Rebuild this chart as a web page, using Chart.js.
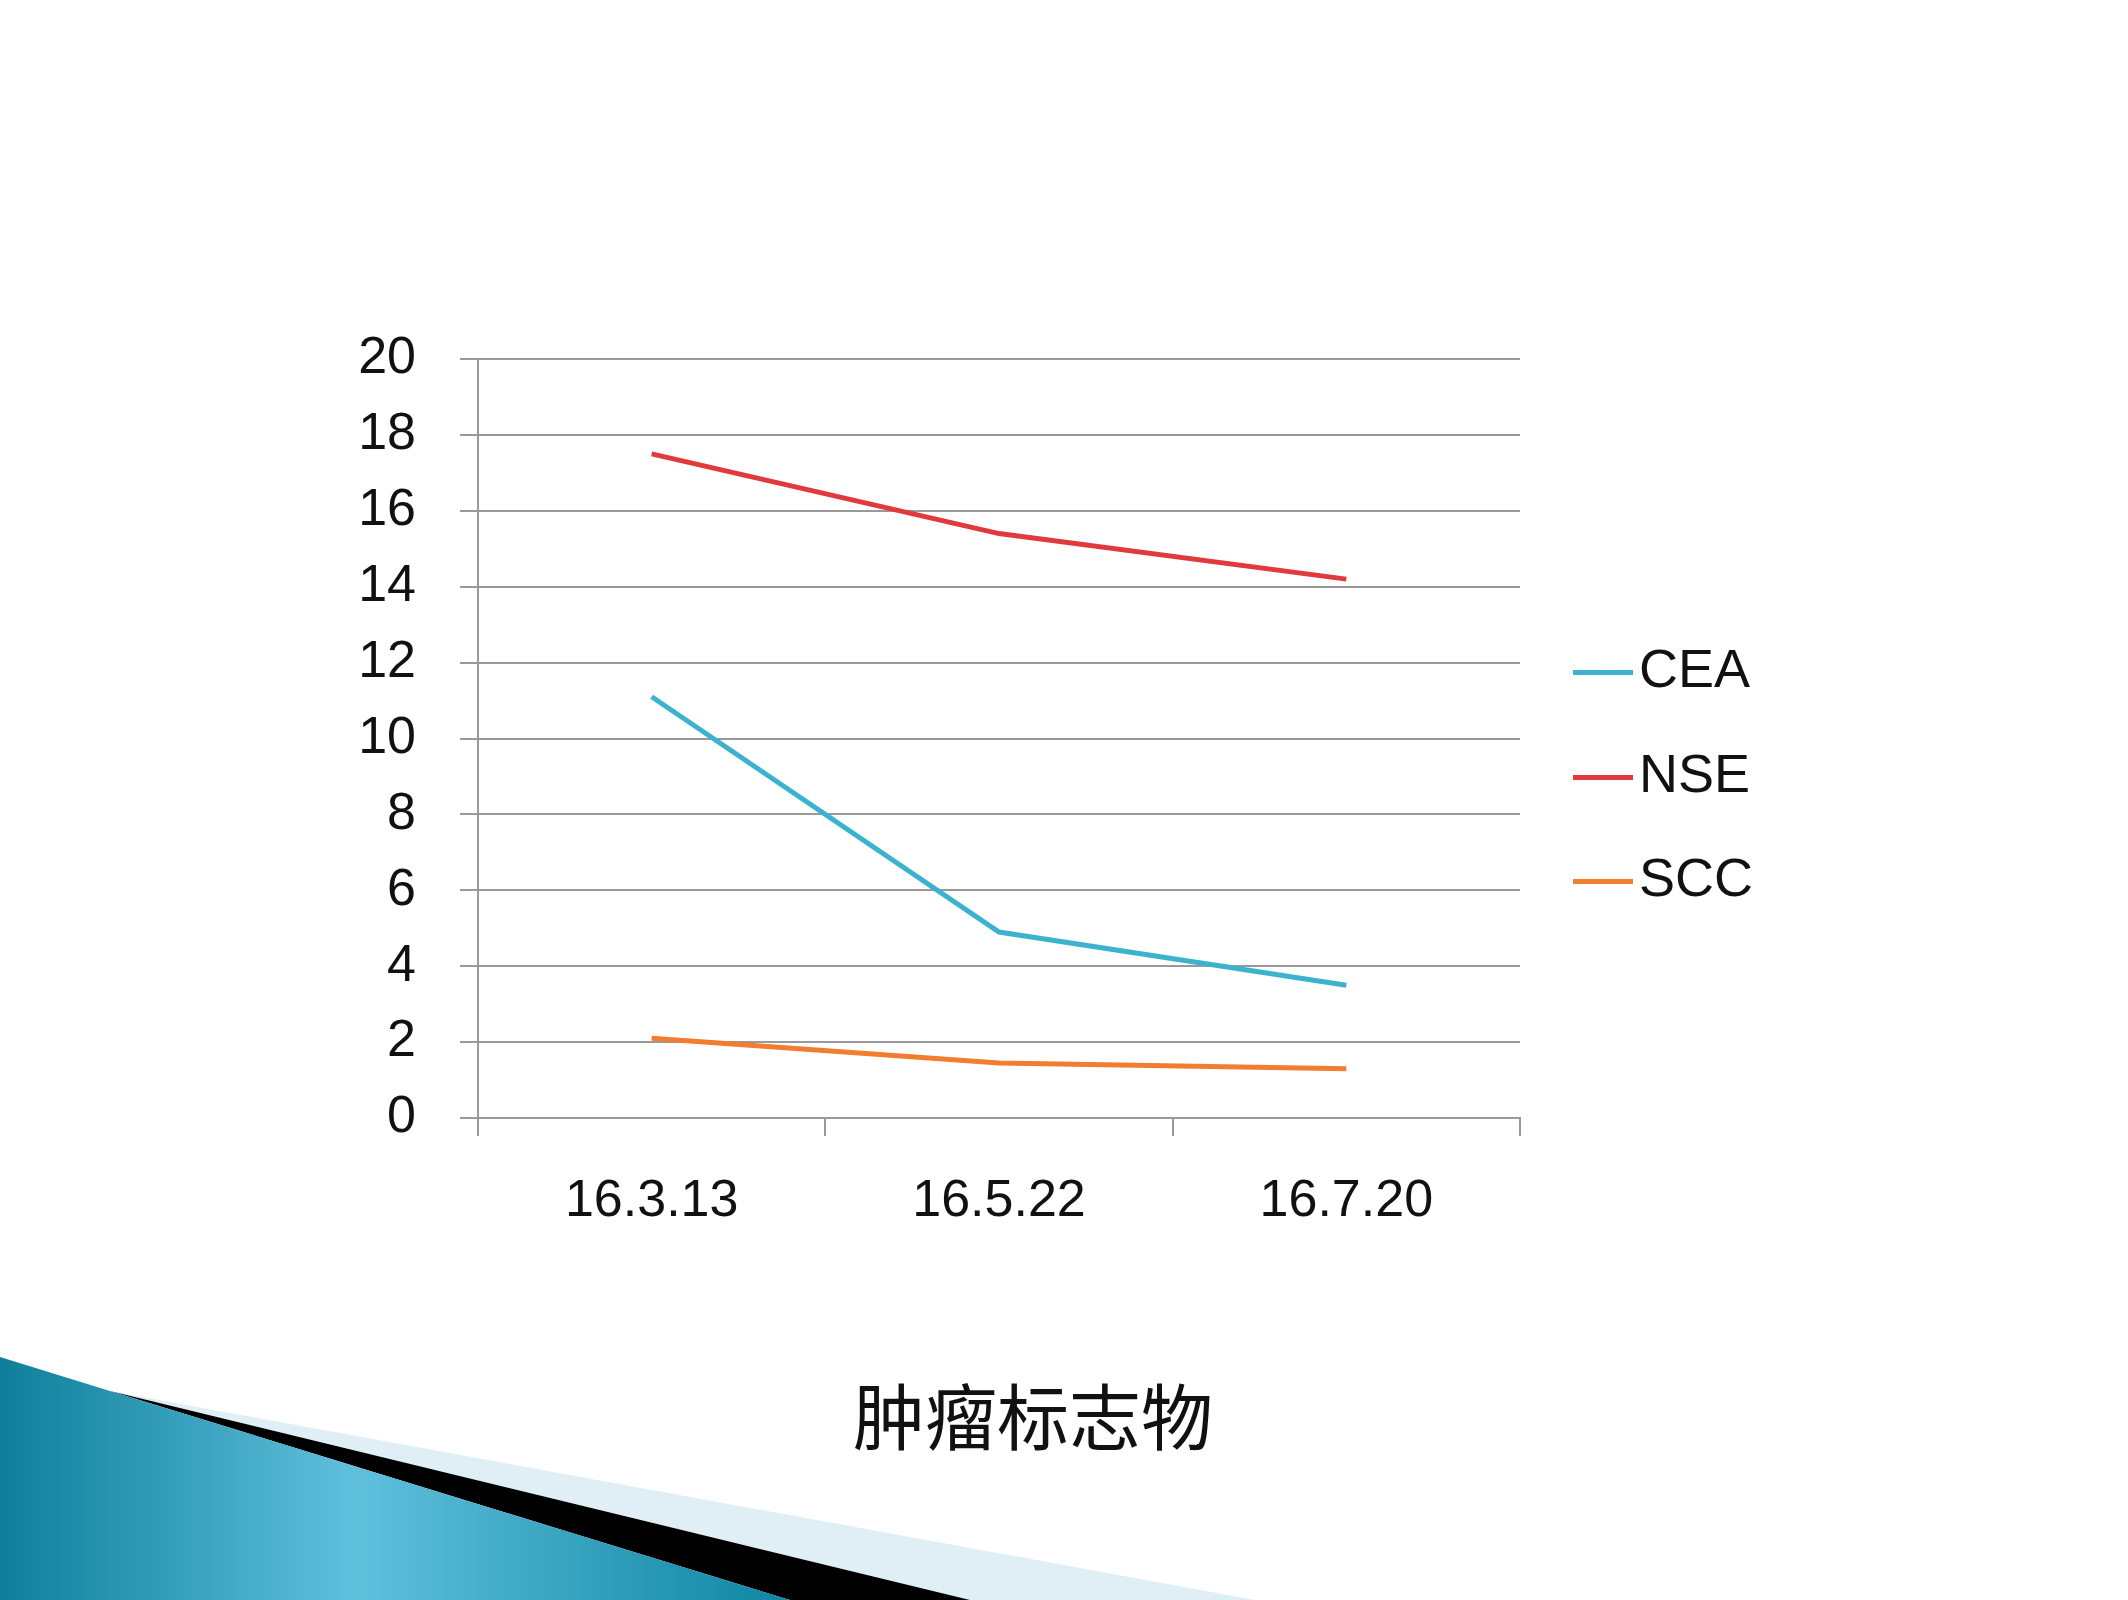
<!DOCTYPE html>
<html><head><meta charset="utf-8">
<script src="https://cdn.jsdelivr.net/npm/chart.js@4"></script>
<style>
body{margin:0;background:#fff;width:2128px;height:1600px;overflow:hidden;position:relative;font-family:"Liberation Sans Narrow","Liberation Sans",sans-serif}
#c,#bg{position:absolute;left:0;top:0}
.lg{position:absolute;left:1573px;font-size:54px;color:#111;line-height:60px;height:60px}
.lg span{display:inline-block;width:60px;height:5px;vertical-align:middle;margin-right:6px}
#title{position:absolute;left:0;width:2066px;text-align:center;top:1360px;font-size:72px;font-family:"Noto Sans CJK SC",sans-serif;color:#111}
</style></head><body>
<svg id="bg" width="2128" height="1600">
<defs><linearGradient id="g" x1="0" y1="0" x2="1" y2="0"><stop offset="0" stop-color="#0e7f9b"/><stop offset="0.45" stop-color="#5fc0dc"/><stop offset="1" stop-color="#0e86a3"/></linearGradient></defs>
<polygon points="110,1391 1255,1600 970,1600" fill="#e0eff5"/>
<polygon points="110,1391 970,1600 790,1600" fill="#000"/>
<polygon points="0,1357 110,1391 790,1600 0,1600" fill="url(#g)"/>
</svg>
<canvas id="c" width="2128" height="1600"></canvas>
<div class="lg" style="top:638px"><span style="background:#3bb3ce"></span>CEA</div>
<div class="lg" style="top:743px"><span style="background:#e03a3e"></span>NSE</div>
<div class="lg" style="top:847px"><span style="background:#f27d2e"></span>SCC</div>
<div id="title">肿瘤标志物</div>
<script>
const categories=["16.3.13","16.5.22","16.7.20"];
const CEA=[11.1,4.9,3.5];
const NSE=[17.5,15.4,14.2];
const SCC=[2.1,1.45,1.3];
const font={family:'"Liberation Sans Narrow","Liberation Sans",sans-serif',size:52};
new Chart(document.getElementById('c'),{type:'line',
data:{labels:categories,datasets:[
{label:'CEA',data:CEA,borderColor:'#3bb3ce'},
{label:'NSE',data:NSE,borderColor:'#e03a3e'},
{label:'SCC',data:SCC,borderColor:'#f27d2e'}].map(d=>Object.assign(d,{borderWidth:5,pointRadius:0,tension:0,fill:false}))},
options:{responsive:false,animation:false,
layout:{padding:{left:0,top:359,right:608,bottom:0}},
plugins:{legend:{display:false},tooltip:{enabled:false}},
scales:{
x:{offset:true,grid:{offset:true,color:'#999',lineWidth:2,drawOnChartArea:false,tickLength:18},border:{color:'#999',width:2},
ticks:{font,color:'#111',padding:34},afterFit:s=>{s.height=482;}},
y:{min:0,max:20,grid:{color:'#999',lineWidth:2,tickLength:18},border:{color:'#999',width:2},
ticks:{stepSize:2,font,color:'#111',padding:44},afterFit:s=>{s.width=478;}}
}}});
</script></body></html>
